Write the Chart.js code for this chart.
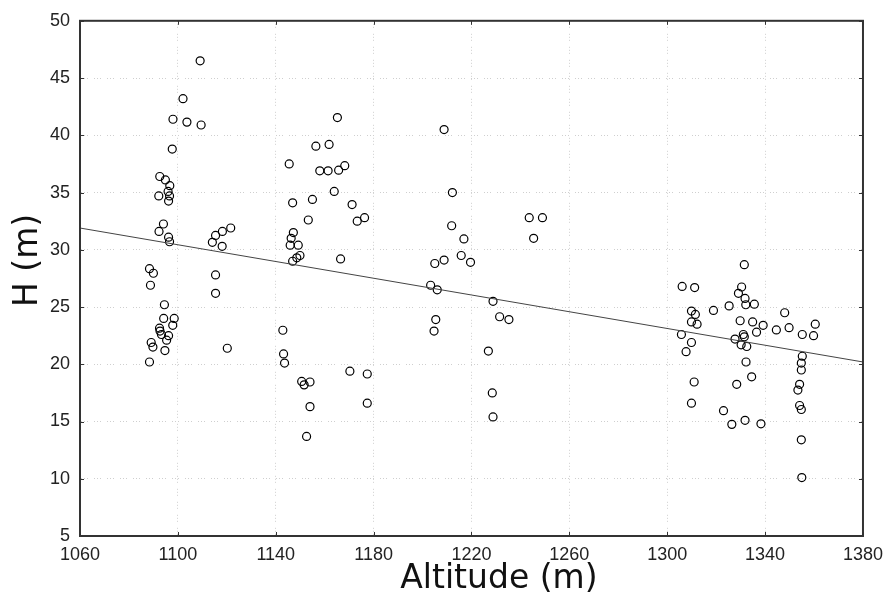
<!DOCTYPE html>
<html>
<head>
<meta charset="utf-8">
<title>H vs Altitude</title>
<script src="https://cdn.jsdelivr.net/npm/chart.js@4.4.1/dist/chart.umd.min.js"></script>
<style>
  body { margin: 0; background: #fff; }
  #grafico { display: block; }
</style>
</head>
<body>
<canvas id="grafico" width="891" height="603"></canvas>
<script>
// Altitud (m) de cada árbol
const altitud = [
    1109.1, 1102.1, 1098.0, 1103.7, 1109.5, 1097.7, 1092.6, 1094.9, 1096.7, 1096.0,
    1092.2, 1096.6, 1096.2, 1094.1, 1092.3, 1096.2, 1096.6, 1088.4, 1090.0, 1088.8,
    1094.5, 1094.2, 1098.5, 1097.9, 1092.5, 1092.7, 1096.2, 1095.4, 1089.1, 1089.8,
    1094.7, 1088.4, 1093.3,
    1121.6, 1118.2, 1115.4, 1114.1, 1118.1, 1115.4, 1115.4, 1120.2,
    1165.2, 1156.4, 1161.8, 1145.5, 1158.0, 1161.4, 1165.7, 1168.2, 1163.9, 1146.9,
    1155.0, 1171.2, 1173.3, 1176.3, 1153.3, 1147.2, 1146.3, 1145.9, 1149.2, 1149.9,
    1148.6, 1146.9, 1166.5, 1142.9, 1143.2, 1143.6, 1150.6, 1154.0, 1151.6, 1154.0,
    1152.6, 1170.3, 1177.4, 1177.4,
    1208.8, 1212.2, 1211.9, 1216.9, 1215.8, 1219.6, 1205.0, 1208.8, 1203.3, 1206.0,
    1205.4, 1204.7, 1228.8, 1231.5, 1235.3, 1226.9, 1228.5, 1228.8, 1243.6, 1249.0,
    1245.4,
    1331.5, 1306.1, 1311.2, 1330.4, 1329.1, 1331.8, 1332.1, 1335.6, 1325.3, 1318.9,
    1309.9, 1311.5, 1348.0, 1309.9, 1312.2, 1329.8, 1334.9, 1339.2, 1336.5, 1344.6,
    1349.8, 1360.5, 1355.2, 1359.8, 1305.8, 1309.9, 1307.7, 1331.1, 1327.7, 1330.2,
    1332.5, 1331.5, 1332.2, 1355.2, 1354.8, 1354.8, 1334.5, 1328.4, 1311.0, 1354.1,
    1353.4, 1309.9, 1354.1, 1354.8, 1323.0, 1326.4, 1331.8, 1338.3, 1354.8, 1355.0
];

// Altura H (m), en el mismo orden
const altura = [
    46.5, 43.2, 41.4, 41.15, 40.9, 38.8, 36.4, 36.1, 35.6, 35.1,
    34.7, 34.7, 34.25, 32.25, 31.6, 31.1, 30.7, 28.35, 27.95, 26.9,
    25.2, 24.0, 24.0, 23.4, 23.15, 22.9, 22.5, 22.1, 21.9, 21.5,
    21.2, 20.2, 22.6,
    31.9, 31.6, 31.25, 30.65, 30.3, 27.8, 26.2, 21.4,
    41.55, 39.05, 39.2, 37.5, 36.9, 36.9, 36.95, 37.35, 35.1, 34.1,
    34.4, 33.95, 32.5, 32.8, 32.6, 31.5, 31.0, 30.4, 30.4, 29.5,
    29.3, 29.0, 29.2, 22.97, 20.9, 20.1, 18.5, 18.45, 18.2, 16.3,
    13.7, 19.4, 19.15, 16.6,
    40.5, 35.0, 32.1, 30.95, 29.5, 28.9, 28.8, 29.1, 26.9, 26.5,
    23.9, 22.9, 25.5, 24.15, 23.9, 21.15, 17.5, 15.4, 32.8, 32.8,
    31.0,
    28.7, 26.8, 26.7, 26.75, 26.2, 25.75, 25.2, 25.25, 25.1, 24.7,
    24.65, 24.35, 24.5, 23.7, 23.5, 23.8, 23.7, 23.4, 22.8, 23.0,
    23.2, 23.5, 22.6, 22.5, 22.6, 21.9, 21.1, 22.6, 22.2, 21.7,
    21.55, 22.4, 20.2, 20.7, 20.1, 19.5, 18.9, 18.25, 18.45, 18.25,
    17.75, 16.6, 16.4, 16.05, 15.95, 14.75, 15.1, 14.8, 13.4, 10.1
];

// Recta de regresión (extremos)
const rectaX = [1060, 1380];
const rectaY = [31.9, 20.2];

// Ejes
const ticksX = [1060, 1100, 1140, 1180, 1220, 1260, 1300, 1340, 1380];
const ticksY = [5, 10, 15, 20, 25, 30, 35, 40, 45, 50];
const tituloX = 'Altitude (m)';
const tituloY = 'H (m)';

const fuenteTicks = { family: 'Liberation Sans, Arial, sans-serif', size: 18 };
const fuenteTitulo = '33px "DejaVu Sans", sans-serif';

// Marco, marcas hacia dentro y títulos de los ejes (como en Statistica)
const marcoPlugin = {
    id: 'marco',
    afterDraw(chart) {
        const { ctx, chartArea: a, scales } = chart;
        ctx.save();
        ctx.strokeStyle = '#333';
        ctx.lineWidth = 1;
        ctx.beginPath();
        ticksX.forEach(v => {
            const px = Math.round(scales.x.getPixelForValue(v)) + 0.5;
            ctx.moveTo(px, a.bottom); ctx.lineTo(px, a.bottom - 4);
            ctx.moveTo(px, a.top); ctx.lineTo(px, a.top + 4);
        });
        ticksY.forEach(v => {
            const py = Math.round(scales.y.getPixelForValue(v)) + 0.5;
            ctx.moveTo(a.left, py); ctx.lineTo(a.left + 4, py);
            ctx.moveTo(a.right, py); ctx.lineTo(a.right - 4, py);
        });
        ctx.stroke();
        ctx.lineWidth = 2;
        ctx.strokeRect(a.left, a.top, a.right - a.left, a.bottom - a.top);

        // títulos
        ctx.fillStyle = '#111';
        ctx.font = fuenteTitulo;
        ctx.textAlign = 'center';
        ctx.textBaseline = 'middle';
        ctx.fillText(tituloX, a.left + (a.right - a.left) * 0.535, 579);
        ctx.translate(28, a.top + (a.bottom - a.top) * 0.465);
        ctx.rotate(-Math.PI / 2);
        ctx.fillText(tituloY, 0, 0);
        ctx.restore();
    }
};

function generarGrafico() {
    const puntos = altitud.map((x, i) => ({ x: x, y: altura[i] }));
    const recta = rectaX.map((x, i) => ({ x: x, y: rectaY[i] }));

    const ctx = document.getElementById('grafico').getContext('2d');
    new Chart(ctx, {
        type: 'scatter',
        data: {
            datasets: [{
                label: 'H',
                data: puntos,
                pointRadius: 4,
                pointBorderWidth: 1.2,
                borderColor: '#000',
                backgroundColor: 'rgba(0,0,0,0)',
                order: 2
            }, {
                type: 'line',
                label: 'Regresión',
                data: recta,
                borderColor: '#444',
                borderWidth: 1,
                pointRadius: 0,
                fill: false,
                order: 1
            }]
        },
        options: {
            responsive: false,
            animation: false,
            devicePixelRatio: 1,
            layout: { padding: { top: 17, right: 22, left: 0, bottom: 0 } },
            plugins: {
                legend: { display: false },
                tooltip: { enabled: false }
            },
            scales: {
                x: {
                    type: 'linear',
                    min: 1060,
                    max: 1380,
                    afterFit: s => { s.height = 67; },
                    afterBuildTicks: s => { s.ticks = ticksX.map(v => ({ value: v })); },
                    grid: { color: '#cfcfcf', lineWidth: 1, drawTicks: false },
                    border: { display: true, color: '#333', width: 2, dash: [1, 2, 1, 2, 1, 6] },
                    ticks: {
                        font: fuenteTicks, color: '#222', padding: 8, maxRotation: 0,
                        callback: v => String(v)
                    }
                },
                y: {
                    type: 'linear',
                    min: 5,
                    max: 50,
                    afterFit: s => { s.width = 80; },
                    afterBuildTicks: s => { s.ticks = ticksY.map(v => ({ value: v })); },
                    grid: { color: '#cfcfcf', lineWidth: 1, drawTicks: false },
                    border: { display: true, color: '#333', width: 2, dash: [1, 2, 1, 2, 1, 6] },
                    ticks: {
                        font: fuenteTicks, color: '#222', padding: 10,
                        callback: v => String(v)
                    }
                }
            }
        },
        plugins: [marcoPlugin]
    });
}

document.addEventListener('DOMContentLoaded', () => {
    generarGrafico();
});
</script>
</body>
</html>
